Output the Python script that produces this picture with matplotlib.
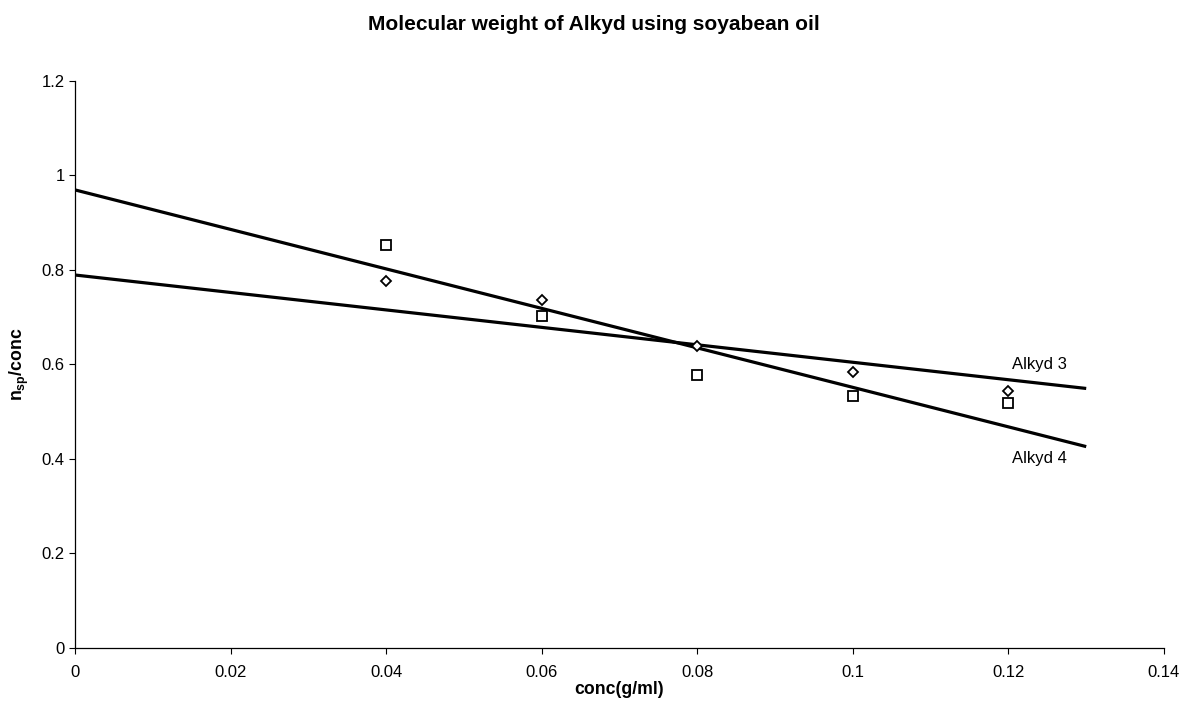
import matplotlib
matplotlib.use("Agg")
import matplotlib.pyplot as plt

plt.rcParams['font.family'] = ['Liberation Sans', 'DejaVu Sans']
plt.rcParams['mathtext.fontset'] = 'custom'
plt.rcParams['mathtext.rm'] = 'Liberation Sans'
plt.rcParams['mathtext.bf'] = 'Liberation Sans:bold'
plt.rcParams['mathtext.it'] = 'Liberation Sans:italic'

# ---- data ----
conc = [0.04, 0.06, 0.08, 0.10, 0.12]
alkyd3_points = [0.777, 0.736, 0.639, 0.583, 0.544]   # diamonds
alkyd4_points = [0.853, 0.703, 0.578, 0.533, 0.519]   # squares
trend_x = [0.0, 0.13]
alkyd3_trend = [0.789, 0.549]
alkyd4_trend = [0.969, 0.426]
series_labels = ["Alkyd 3", "Alkyd 4"]
label_pos = [(0.1205, 0.599), (0.1205, 0.400)]
x_ticks = [0, 0.02, 0.04, 0.06, 0.08, 0.1, 0.12, 0.14]
x_ticklabels = ["0", "0.02", "0.04", "0.06", "0.08", "0.1", "0.12", "0.14"]
y_ticks = [0, 0.2, 0.4, 0.6, 0.8, 1.0, 1.2]
y_ticklabels = ["0", "0.2", "0.4", "0.6", "0.8", "1", "1.2"]

W, H = 1184, 706
fig = plt.figure(figsize=(W / 100, H / 100), dpi=100)
left_px, right_px, top_px, bottom_px = 75, 1164, 80.7, 648
ax = fig.add_axes([left_px / W, 1 - bottom_px / H,
                   (right_px - left_px) / W, (bottom_px - top_px) / H])

ax.plot(trend_x, alkyd3_trend, color='black', lw=2.3, solid_capstyle='butt', zorder=2)
ax.plot(trend_x, alkyd4_trend, color='black', lw=2.3, solid_capstyle='butt', zorder=2)
ax.plot(conc, alkyd3_points, linestyle='none', marker='D', markersize=5.2,
        markerfacecolor='white', markeredgecolor='black', markeredgewidth=1.3, zorder=3)
ax.plot(conc, alkyd4_points, linestyle='none', marker='s', markersize=7.0,
        markerfacecolor='white', markeredgecolor='black', markeredgewidth=1.3, zorder=3)

for lab, (lx, ly) in zip(series_labels, label_pos):
    ax.text(lx, ly, lab, fontsize=12, ha='left', va='center', color='black')

ax.set_xlim(0, 0.14)
ax.set_ylim(0, 1.2)
ax.set_xticks(x_ticks)
ax.set_xticklabels(x_ticklabels)
ax.set_yticks(y_ticks)
ax.set_yticklabels(y_ticklabels)
ax.tick_params(axis='both', direction='out', length=4.3, width=0.8, labelsize=12, color='black')
ax.tick_params(axis='x', pad=8)
ax.tick_params(axis='y', pad=3)

for s in ['top', 'right']:
    ax.spines[s].set_visible(False)
for s in ['left', 'bottom']:
    ax.spines[s].set_linewidth(0.9)
    ax.spines[s].set_color('black')

ax.set_xlabel("conc(g/ml)", fontsize=12.7, fontweight='bold')
ax.xaxis.label.set_va('baseline')
ax.xaxis.set_label_coords(0.5, (bottom_px - 693.5) / (bottom_px - top_px))

ax.set_ylabel(r"n$_{\mathbf{sp}}$/conc", fontsize=12.7, fontweight='bold')
ax.yaxis.label.set_va('center')
ax.yaxis.set_label_coords((19 - left_px) / (right_px - left_px), 0.5)

fig.text(593.5 / W, 1 - 30.5 / H, "Molecular weight of Alkyd using soyabean oil",
         ha='center', va='baseline', fontsize=15, fontweight='bold')

fig.savefig("out.png", dpi=100, facecolor='white')
